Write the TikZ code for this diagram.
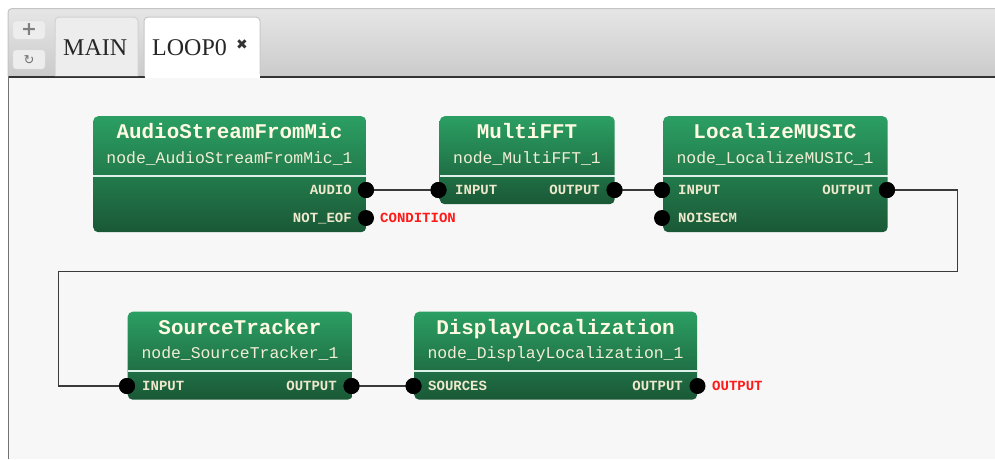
\documentclass[tikz,border=0pt]{standalone}
\usepackage{fontspec}
\setmainfont{Liberation Serif}
\newfontfamily\monofont{Liberation Mono}
\newfontfamily\symfont{DejaVu Sans}
\definecolor{canvasbg}{HTML}{F7F7F7}
\definecolor{bartop}{HTML}{E6E6E6}
\definecolor{barbot}{HTML}{CBCBCB}
\definecolor{barline}{HTML}{C4C4C4}
\definecolor{gtop}{HTML}{2B9F63}
\definecolor{gbot}{HTML}{1A5836}
\definecolor{titlecol}{HTML}{FFFBE2}
\definecolor{subcol}{HTML}{F2EED6}
\definecolor{portcol}{HTML}{EEE8CC}
\definecolor{wirecol}{HTML}{3A3A3A}
\definecolor{redlbl}{HTML}{FF1A1A}
\tikzset{
  blockbox/.style={rounded corners=5pt, top color=gtop, bottom color=gbot, draw=none, inner sep=0pt, anchor=north west},
  titletxt/.style={inner sep=0pt, text height=13.8pt, text depth=0pt, text=titlecol, font=\monofont\fontsize{20.9}{22}\selectfont\bfseries},
  subtxt/.style={inner sep=0pt, text height=10.8pt, text depth=0pt, text=subcol, font=\monofont\fontsize{16.4}{18}\selectfont},
  portlbl/.style={inner sep=0pt, text height=9.2pt, text depth=0pt, text=portcol, font=\monofont\fontsize{14}{15}\selectfont\bfseries},
  redtxt/.style={inner sep=0pt, text height=9.2pt, text depth=0pt, text=redlbl, font=\monofont\fontsize{14}{15}\selectfont\bfseries, anchor=west},
  sepline/.style={draw=white!85!gtop, line width=1.3pt},
  portdot/.style={circle, fill=black, inner sep=0pt, minimum size=16pt},
  wire/.style={draw=wirecol, line width=1.6pt},
  tabtxt/.style={inner sep=0pt, text height=16pt, text depth=0pt, text=black!85, font=\fontsize{24}{26}\selectfont}
}
\begin{document}
\begin{tikzpicture}[x=1pt,y=-1pt]
\useasboundingbox (0,0) rectangle (995,459);
\fill[white] (0,0) rectangle (995,459);
% toolbar
\path[top color=bartop, bottom color=barbot, draw=barline, line width=1pt, rounded corners=4pt] (8,76) -- (8,8.5) -- (1000,8.5) -- (1000,76);
% canvas
\fill[canvasbg] (8,77) rectangle (995,459);
\draw[black!80, line width=2pt] (8,76.5) -- (995,76.5);
\draw[black!55, line width=1pt] (8.5,76) -- (8.5,459);
% small buttons
\node[draw=black!12, fill=black!7, rounded corners=3pt, minimum width=32pt, minimum height=18pt, inner sep=0pt] (addbtn) at (29,30) {};
\node[text=black!50, inner sep=0pt, font=\symfont\fontsize{19}{20}\selectfont\bfseries] (addlbl) at (29,29.5) {+};
\node[draw=black!12, fill=black!7, rounded corners=3pt, minimum width=32pt, minimum height=19pt, inner sep=0pt] (rfbtn) at (29,59.5) {};
\node[text=black!55, inner sep=0pt, font=\symfont\fontsize{13}{14}\selectfont] (rflbl) at (29,60) {↻};
% tabs
\path[fill=black!7, draw=black!18, line width=1pt, rounded corners=4pt] (55,76) -- (55,17) -- (138,17) -- (138,76);
\node[tabtxt, anchor=west] (maintab) at (63,47) {MAIN};
\path[fill=white, draw=black!22, line width=1pt, rounded corners=4pt] (144,76) -- (144,17) -- (260,17) -- (260,76);
\fill[white] (144.5,74) rectangle (259.5,78);
\node[tabtxt, anchor=west] (looptab) at (152,47) {LOOP0};
\node[inner sep=0pt, text=black!80, font=\symfont\fontsize{14}{15}\selectfont] (closex) at (242,45) {✖};

% ---------- AudioStreamFromMic
\node[blockbox, minimum width=273pt, minimum height=116pt] (asfm) at (93,116) {};
\node[titletxt] (asfm-t) at (229.5,131.7) {AudioStreamFromMic};
\node[subtxt] (asfm-s) at (229.5,158) {node\_AudioStreamFromMic\_1};
\draw[sepline] (93,176) -- (366,176);
\node[portlbl, anchor=east] (asfm-al) at (352,190) {AUDIO};
\node[portlbl, anchor=east] (asfm-nl) at (352,218) {NOT\_EOF};
\node[portdot] (asfm-audio) at (366,190) {};
\node[portdot] (asfm-eof) at (366,218) {};
\node[redtxt] (cond) at (380,218) {CONDITION};

% ---------- MultiFFT
\node[blockbox, minimum width=175pt, minimum height=88pt] (mfft) at (439.5,116) {};
\node[titletxt] (mfft-t) at (527,131.7) {MultiFFT};
\node[subtxt] (mfft-s) at (527,158) {node\_MultiFFT\_1};
\draw[sepline] (439.5,176) -- (614.5,176);
\node[portlbl, anchor=west] (mfft-il) at (455,190) {INPUT};
\node[portlbl, anchor=east] (mfft-ol) at (600,190) {OUTPUT};
\node[portdot] (mfft-in) at (438.5,190) {};
\node[portdot] (mfft-out) at (614.5,190) {};

% ---------- LocalizeMUSIC
\node[blockbox, minimum width=224.5pt, minimum height=116pt] (lmus) at (663,116) {};
\node[titletxt] (lmus-t) at (775,131.7) {LocalizeMUSIC};
\node[subtxt] (lmus-s) at (775,158) {node\_LocalizeMUSIC\_1};
\draw[sepline] (663,176) -- (887.5,176);
\node[portlbl, anchor=west] (lmus-il) at (678,190) {INPUT};
\node[portlbl, anchor=west] (lmus-nl) at (678,218) {NOISECM};
\node[portlbl, anchor=east] (lmus-ol) at (873,190) {OUTPUT};
\node[portdot] (lmus-in) at (662,190) {};
\node[portdot] (lmus-noise) at (662,218) {};
\node[portdot] (lmus-out) at (887,190) {};

% ---------- SourceTracker
\node[blockbox, minimum width=225pt, minimum height=88pt] (strk) at (127.5,311.5) {};
\node[titletxt] (strk-t) at (240,327.8) {SourceTracker};
\node[subtxt] (strk-s) at (240,353.5) {node\_SourceTracker\_1};
\draw[sepline] (127.5,371) -- (352.5,371);
\node[portlbl, anchor=west] (strk-il) at (142,386) {INPUT};
\node[portlbl, anchor=east] (strk-ol) at (337,386) {OUTPUT};
\node[portdot] (strk-in) at (127,386) {};
\node[portdot] (strk-out) at (351.5,386) {};

% ---------- DisplayLocalization
\node[blockbox, minimum width=283pt, minimum height=88pt] (dloc) at (414,311.5) {};
\node[titletxt] (dloc-t) at (555.5,327.8) {DisplayLocalization};
\node[subtxt] (dloc-s) at (555.5,353.5) {node\_DisplayLocalization\_1};
\draw[sepline] (414,371) -- (697,371);
\node[portlbl, anchor=west] (dloc-il) at (428,386) {SOURCES};
\node[portlbl, anchor=east] (dloc-ol) at (683,386) {OUTPUT};
\node[portdot] (dloc-in) at (413.5,386) {};
\node[portdot] (dloc-out) at (697.5,386) {};
\node[redtxt] (outlbl) at (712,386) {OUTPUT};

% ---------- wires
\coordinate (bendA) at (957.5,190);
\coordinate (bendB) at (957.5,271.5);
\coordinate (bendC) at (58.5,271.5);
\coordinate (bendD) at (58.5,386);
\draw[wire] (asfm-audio.center) -- (mfft-in.center);
\draw[wire] (mfft-out.center) -- (lmus-in.center);
\draw[wire] (lmus-out.center) -- (bendA) -- (bendB) -- (bendC) -- (bendD) -- (strk-in.center);
\draw[wire] (strk-out.center) -- (dloc-in.center);
% redraw dots above wires
\foreach \p in {asfm-audio, mfft-in, mfft-out, lmus-in, lmus-out, strk-in, strk-out, dloc-in}
  \fill[black] (\p) circle (8pt);
\end{tikzpicture}
\end{document}
